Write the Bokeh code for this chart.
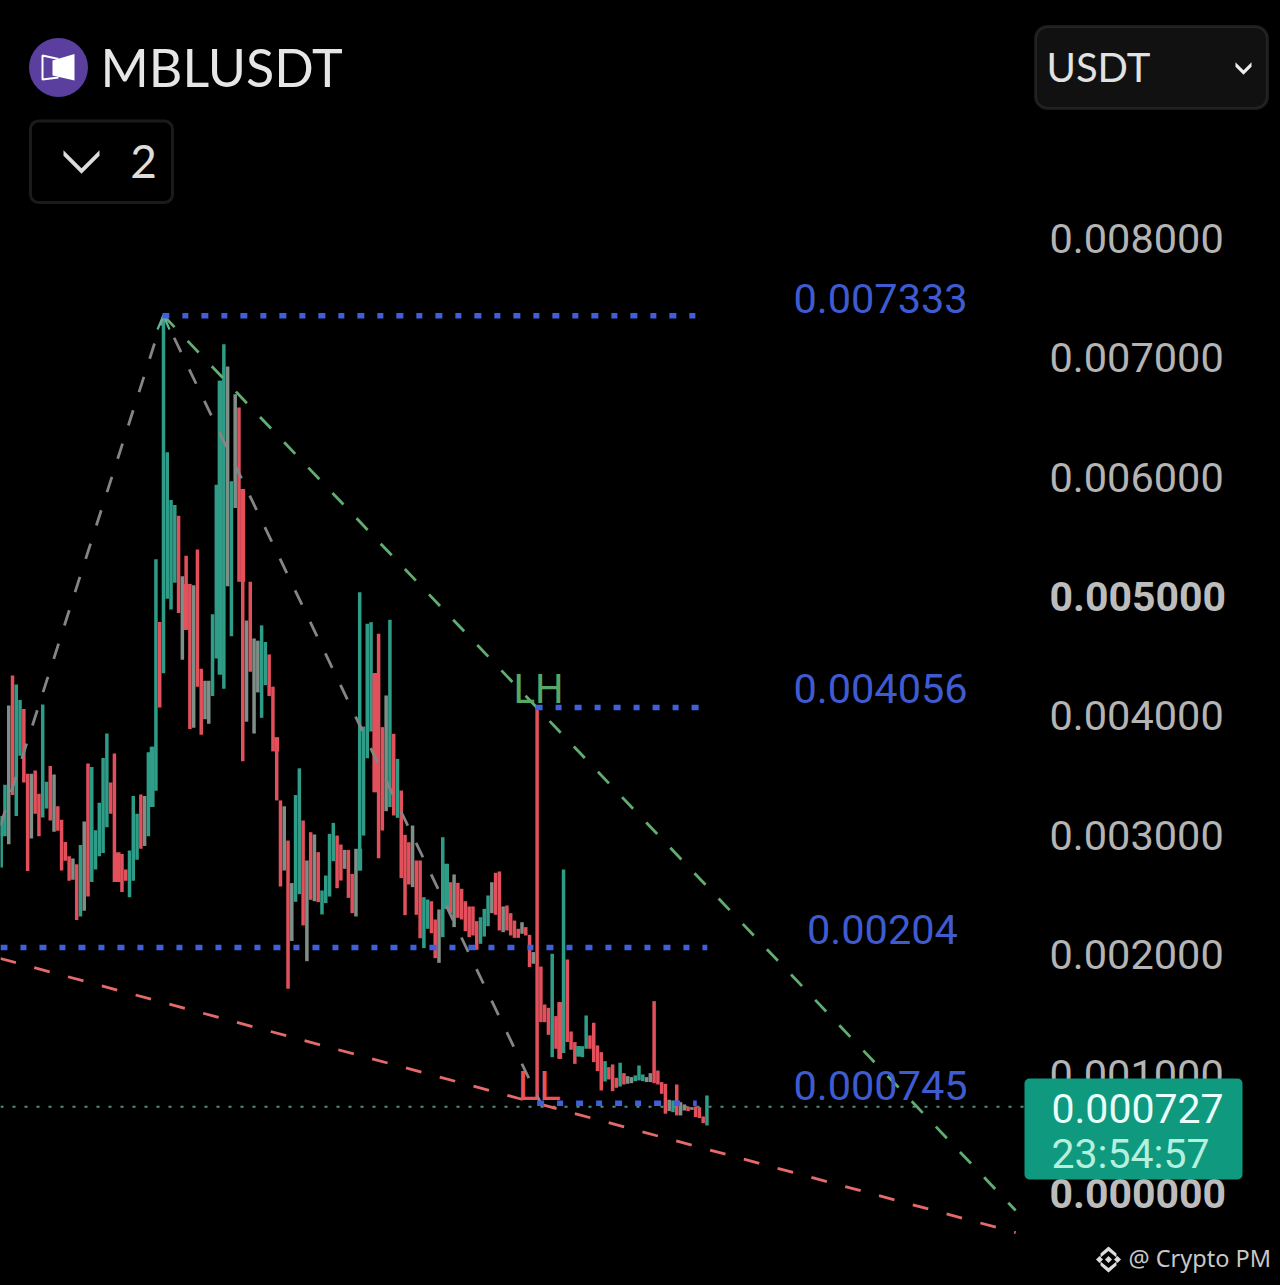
from bokeh.plotting import figure
from bokeh.embed import file_html
from bokeh.resources import INLINE
from bokeh.core.properties import value
from bokeh.models import (Range1d, FixedTicker, PrintfTickFormatter, Label, BoxAnnotation,
                          PolyAnnotation, ColumnDataSource)

# ---- data: prices are in thousandths of a USDT ----
highs = [
 3.161,3.423,4.088,4.339,4.264,4.133,4.058,3.516,3.516,3.543,
 3.348,4.096,3.449,3.58,3.509,3.243,3.131,2.944,2.825,2.806,
 2.758,2.918,3.116,3.602,3.572,3.042,3.273,3.647,3.853,3.442,
 3.685,2.855,2.843,2.713,2.873,3.329,3.18,3.341,3.329,3.696,
 3.741,5.311,4.787,7.333,6.208,5.808,5.767,5.677,5.169,5.341,
 5.105,5.094,5.393,4.395,4.294,4.294,4.851,5.935,6.806,7.113,
 6.926,5.965,6.694,6.582,5.901,4.799,5.124,4.649,4.63,4.758,
 4.619,4.515,4.245,3.815,3.292,3.243,2.956,2.6,3.337,3.561,
 3.124,2.789,3.026,3.007,2.859,2.538,2.663,3.012,3.104,2.998,
 2.923,2.878,2.878,2.677,2.887,5.036,3.911,4.771,4.785,4.358,
 4.687,3.906,4.171,4.805,3.85,3.64,3.375,3.004,2.942,3.082,
 2.789,2.789,2.482,2.462,2.448,2.295,2.379,2.984,2.761,2.607,
 2.672,2.602,2.552,2.448,2.404,2.404,2.281,2.314,2.384,2.496,
 2.607,2.686,2.697,2.404,2.412,2.348,2.286,2.217,2.272,2.231,
 2.166,2.022,4.07,1.901,1.583,1.555,2.008,1.486,1.603,2.714,
 1.96,1.357,1.268,1.234,1.234,1.491,1.324,1.43,1.24,1.184,
 1.109,1.058,1.081,0.969,1.095,1.008,0.983,0.975,0.989,1.072,
 0.997,0.975,1.008,1.611,1.03,0.933,0.919,0.785,0.779,0.913,
 0.765,0.746,0.729,0.723,0.729,0.723,0.645,0.821]
lows = [
 2.731,2.993,2.926,3.337,3.161,3.666,3.442,2.701,2.974,3.18,
 2.993,3.15,3.225,3.124,3.03,3.038,2.705,2.787,2.619,2.627,
 2.29,2.32,2.369,2.488,2.608,2.713,2.825,2.851,3.068,3.18,
 2.608,2.608,2.526,2.619,2.481,2.619,2.795,2.888,2.911,2.993,
 3.236,3.374,4.07,4.358,4.982,4.892,5.116,4.862,4.47,4.72,
 3.89,3.901,4.245,3.842,3.972,3.935,4.167,4.481,4.346,4.227,
 5.086,4.668,5.741,5.124,3.621,3.95,4.369,3.853,4.197,3.984,
 4.257,4.167,3.703,3.292,2.571,2.705,1.715,2.115,2.443,2.507,
 2.245,1.946,2.46,2.448,2.44,2.337,2.432,2.487,2.783,2.557,
 2.621,2.719,2.476,2.348,2.32,2.705,2.998,3.646,3.869,3.361,
 2.808,3.04,3.202,3.236,3.166,3.146,2.641,2.331,2.588,2.566,
 2.334,2.138,2.055,2.217,2.18,1.971,1.932,2.147,2.384,2.348,
 2.231,2.309,2.295,2.197,2.147,2.161,2.041,2.091,2.152,2.239,
 2.348,2.334,2.203,2.189,2.203,2.161,2.141,2.141,2.175,2.161,
 1.896,1.924,0.793,1.435,1.435,1.329,1.142,1.212,1.128,1.176,
 1.268,1.204,1.086,1.148,1.142,1.212,1.212,1.1,1.025,0.863,
 0.938,0.955,0.857,0.885,0.896,0.913,0.919,0.924,0.941,0.947,
 0.941,0.933,0.933,0.924,0.913,0.835,0.668,0.69,0.681,0.654,
 0.654,0.695,0.69,0.701,0.64,0.631,0.589,0.57]
tones = list("ggmrggrrmr" "rggrmrrrrm" "rgmrgggggr" "rrrrgggrmg" "ggrggggrmr"
             "rmrrmmgggg" "mgmrrmrmmg" "grrrrmrmgg" "rmrmrggggr" "rmrrmggggr"
             "rrmgrgrrrm" "rrggrrmggr" "mrrrrrrggg" "mrrmrrrrmr" "rmrrrrgrrg"
             "rrrgggrrrr" "grrrgrmmgg" "gmmrrrrmgr" "mmrmrrrg")
body_index = [0, 31, 40, 49, 58, 64, 73, 95, 99, 118, 148, 153]
body_top = [3.161, 2.855, 3.741, 5.105, 6.806, 5.901, 3.822, 2.887, 4.358, 2.761, 1.603, 1.234]
body_bottom = [2.993, 2.608, 3.236, 4.72, 4.346, 5.124, 3.702, 2.705, 3.361, 2.384, 1.128, 1.148]

tick_values = [1, 2, 3, 4, 6, 7, 8]
bold_ticks = [5, 0]
last_price = 0.727

level_labels = ["0.007333", "0.004056", "0.00204", "0.000745"]
level_prices = [7.352, 4.07, 2.06, 0.755]
level_from = [42.7, 141.6, -0.2, 142.0]
level_to = [184.5, 185.3, 187.1, 184.3]
level_label_x = [233.0, 233.0, 233.5, 233.0]
level_label_y = [7.495, 4.229, 2.211, 0.904]

grey_x = [-0.2, 43, 143]
grey_y = [3.082, 7.353, 0.754]
green_x = [43, 268.8]
green_y = [7.353, -0.142]
red_x = [-0.2, 268.8]
red_y = [1.968, -0.327]

pattern_labels = ["LH", "LL"]
pattern_x = [142.4, 142.6]
pattern_y = [4.221, 0.896]
pattern_colors = ["#56a864", "#e8525a"]

# ---- scales ----
def X(px):
    return (px - 0.7) / 3.774

def Y(py):
    return (1193 - py) / 119.4 * 0.001

k = 0.001
COL = {"g": "#2f9c87", "r": "#e2505c", "m": "#7f8f88"}

p = figure(width=1280, height=1285, output_backend="svg", toolbar_location=None,
           x_range=Range1d(X(0), X(1280)), y_range=Range1d(Y(1285), Y(0)),
           x_axis_location=None, y_axis_location="right",
           min_border=0,
           background_fill_color="black", border_fill_color="black", outline_line_color=None)
p.grid.visible = False

ax = p.yaxis[0]
ax.fixed_location = X(1040)
ax.ticker = FixedTicker(ticks=[v * k for v in tick_values])
ax.formatter = PrintfTickFormatter(format="%.6f")
ax.axis_line_color = None
ax.major_tick_line_color = None
ax.minor_tick_line_color = None
ax.major_tick_out = 0
ax.major_tick_in = 0
ax.major_label_standoff = 9
ax.major_label_text_font = "Roboto"
ax.major_label_text_font_size = "41.5px"
ax.major_label_text_color = "#b4b4b4"

# last-price dotted line
p.line([X(0), X(1024)], [last_price * k, last_price * k], line_color="#4f8f7e",
       line_width=2, line_dash="3 9")

# candles
n = len(highs)
src = ColumnDataSource(dict(x=list(range(n)), h=[v * k for v in highs], l=[v * k for v in lows],
                            c=[COL[t] for t in tones]))
p.segment("x", "h", "x", "l", source=src, line_color="c", line_width=3.5)
bsrc = ColumnDataSource(dict(x=body_index, t=[v * k for v in body_top], b=[v * k for v in body_bottom],
                             c=[COL[tones[i]] for i in body_index]))
p.vbar("x", top="t", bottom="b", width=1.3, source=bsrc, fill_color="c", line_color=None)

# trend lines
DASH = "16 19"
p.line(grey_x, [v * k for v in grey_y], line_color="#858585", line_width=2.8, line_dash=DASH)
p.line(green_x, [v * k for v in green_y], line_color="#62ad72", line_width=2.8, line_dash=DASH)
p.line(red_x, [v * k for v in red_y], line_color="#e56a6a", line_width=2.8, line_dash=DASH)
p.line([X(157), X(163), X(169)], [Y(329), Y(315), Y(329)], line_color="#62b39a", line_width=2.2)

# horizontal levels
for y0, a, b in zip(level_prices, level_from, level_to):
    p.line([a, b], [y0 * k, y0 * k], line_color="#3f5fdc", line_width=5.5, line_dash="7 13 6 13")
p.text(level_label_x, [v * k for v in level_label_y], text=level_labels,
       text_font=value("Roboto"), text_font_size="41.5px", text_color="#3f5bd0",
       text_align="center", text_baseline="middle")

# pattern labels
p.text(pattern_x, [v * k for v in pattern_y], text=pattern_labels, text_font=value("Roboto"),
       text_font_size="40px", text_color=pattern_colors, text_align="center", text_baseline="middle")

# bold tick labels
for v in bold_ticks:
    p.add_layout(Label(x=X(1049), y=v * k, text="%.6f" % (v * k), text_font="Roboto",
                       text_font_size="41px", text_font_style="bold", text_color="#bcbcbc",
                       text_baseline="middle", text_align="left"))

# price badge
p.add_layout(BoxAnnotation(left=X(1024), right=X(1242), top=Y(1078), bottom=Y(1179),
                           fill_color="#0f9a80", fill_alpha=1, line_color=None, border_radius=5))
p.add_layout(Label(x=X(1051), y=Y(1107.5), text="0.000727", text_font="Roboto", text_font_size="41px",
                   text_color="#eafff9", text_baseline="middle"))
p.add_layout(Label(x=X(1051), y=Y(1153.5), text="23:54:57", text_font="Roboto", text_font_size="41px",
                   text_color="#b4f0dd", text_baseline="middle"))

# header
p.scatter([X(58)], [Y(67)], marker="circle", size=59, fill_color="#5b3f9e", line_color=None)
p.patch([X(52), X(74), X(74), X(52)], [Y(60), Y(53.5), Y(80), Y(75)], fill_color="#ffffff", line_color=None)
p.line([X(58), X(42), X(42), X(58)], [Y(58.5), Y(55), Y(79), Y(77)], line_color="#ffffff", line_width=2)
p.add_layout(Label(x=X(100), y=Y(66.5), text="MBLUSDT", text_font="Lato", text_font_size="52px",
                   text_color="#e6e6e6", text_baseline="middle"))

def chevron(cx, cy, w, h, t, color):
    xs = [cx - w, cx, cx + w, cx + w, cx, cx - w]
    ys = [cy - h + t / 2, cy + h + t / 2, cy - h + t / 2, cy - h - t / 2, cy + h - t / 2, cy - h - t / 2]
    p.add_layout(PolyAnnotation(xs=[X(v) for v in xs], ys=[Y(v) for v in ys], fill_color=color,
                                fill_alpha=1, line_color=None))

p.add_layout(BoxAnnotation(left=X(30), right=X(172), top=Y(120.5), bottom=Y(202), fill_alpha=0,
                           line_color="#5a5a5a", line_width=3, border_radius=8))
chevron(81, 161.5, 18, 9, 5.5, "#dddddd")
p.add_layout(Label(x=X(143), y=Y(161), text="2", text_font="Lato", text_font_size="46px",
                   text_color="#dddddd", text_baseline="middle", text_align="center"))

p.add_layout(BoxAnnotation(left=X(1035), right=X(1267), top=Y(26), bottom=Y(108), fill_color="#111111",
                           fill_alpha=1, line_color="#565656", line_width=3, border_radius=12))
p.add_layout(Label(x=X(1046), y=Y(66.5), text="USDT", text_font="Lato", text_font_size="40px",
                   text_color="#e2e2e2", text_baseline="middle"))
chevron(1243, 68, 8, 4, 4.5, "#eeeeee")

# watermark
p.add_layout(Label(x=X(1128), y=Y(1257.5), text="@ Crypto PM", text_font="Noto Sans", text_font_size="23.5px",
                   text_color="#c8c8c8", text_baseline="middle"))
for cx, cy, r in [(1108, 1259, 3.5), (1099, 1259, 3.5), (1117, 1259, 3.5)]:
    p.add_layout(PolyAnnotation(xs=[X(cx - r), X(cx), X(cx + r), X(cx)], ys=[Y(cy), Y(cy - r), Y(cy), Y(cy + r)],
                                fill_color="#dcdcdc", fill_alpha=1, line_color=None))
xs = [1100, 1108, 1116, 1116, 1108, 1100]
p.add_layout(PolyAnnotation(xs=[X(v) for v in xs], ys=[Y(v) for v in [1253, 1246, 1253, 1257, 1250.5, 1257]],
                            fill_color="#dcdcdc", fill_alpha=1, line_color=None))
p.add_layout(PolyAnnotation(xs=[X(v) for v in xs], ys=[Y(v) for v in [1265, 1272, 1265, 1261, 1267.5, 1261]],
                            fill_color="#dcdcdc", fill_alpha=1, line_color=None))

html = file_html(p, INLINE).replace("<head>", "<head><style>html,body{background:#000}</style>", 1)
open("out.html", "w").write(html)
